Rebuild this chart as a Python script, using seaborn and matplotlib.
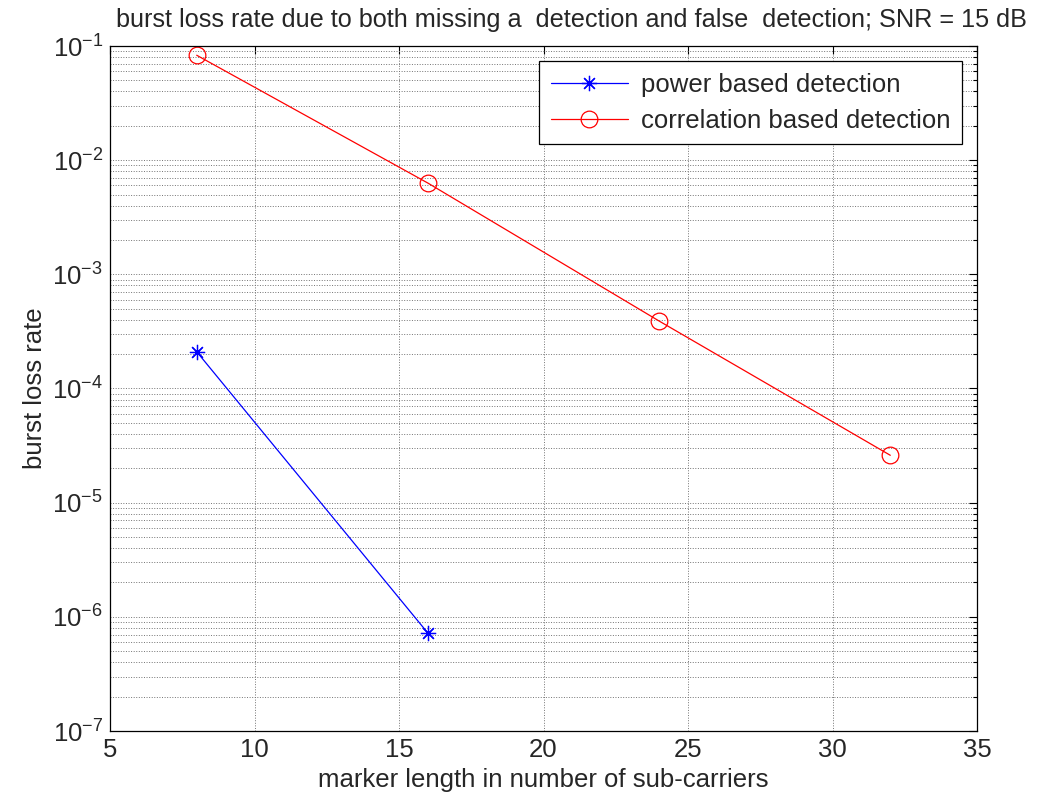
import pandas as pd
import seaborn as sns
import matplotlib.pyplot as plt
from matplotlib.ticker import LogLocator, MultipleLocator, NullFormatter, LogFormatterMathtext

# datos
x_power = [8, 16]
y_power = [2.1e-4, 7.2e-7]
x_corr = [8, 16, 24, 32]
y_corr = [8.3e-2, 6.3e-3, 3.9e-4, 2.6e-5]
series_names = ["power based detection", "correlation based detection"]

df_power = pd.DataFrame({"x": x_power, "y": y_power})
df_corr = pd.DataFrame({"x": x_corr, "y": y_corr})

sns.set_style("white")
plt.rcParams["font.family"] = ["Liberation Sans", "DejaVu Sans"]
plt.rcParams["mathtext.default"] = "regular"
fs = 18.5

fig = plt.figure(figsize=(10.38, 8.05), dpi=100)
ax = fig.add_axes([110/1038, 1-731/805, 867/1038, 685/805])

# una llamada por serie (marcadores de linea y rellenos no se pueden mezclar)
sns.lineplot(data=df_power, x="x", y="y", color="#0000ff", marker=(8, 2, 0),
             markersize=11, markeredgewidth=0.9, markeredgecolor="#0000ff",
             linewidth=0.9, ax=ax, label=series_names[0])
sns.lineplot(data=df_corr, x="x", y="y", color="#ff0000", marker="o",
             markersize=12, markeredgewidth=0.9, markeredgecolor="#ff0000",
             markerfacecolor="none", linewidth=0.9, ax=ax, label=series_names[1])

ax.set_yscale("log")
ax.set_xlim(5, 35)
ax.set_ylim(1e-7, 1e-1)
ax.xaxis.set_major_locator(MultipleLocator(5))
ax.yaxis.set_major_locator(LogLocator(base=10, numticks=20))
ax.yaxis.set_minor_locator(LogLocator(base=10, subs=range(2, 10), numticks=20))
ax.yaxis.set_major_formatter(LogFormatterMathtext())
ax.yaxis.set_minor_formatter(NullFormatter())

ax.grid(True, which="major", color="0.45", linestyle=":", linewidth=0.7)
ax.grid(True, which="minor", axis="y", color="0.45", linestyle=":", linewidth=0.7)
ax.tick_params(which="both", direction="in", top=True, right=True, labelsize=fs, color="k")
ax.tick_params(which="major", length=6, width=0.8, pad=5)
ax.tick_params(which="minor", length=3, width=0.8)
for s in ax.spines.values():
    s.set_color("k")
    s.set_linewidth(0.9)

ax.set_xlabel("marker length in number of sub-carriers", fontsize=fs, labelpad=4)
ax.set_ylabel("burst loss rate", fontsize=fs, labelpad=4)
fig.text(571/1038, 1-20/805,
         "burst loss rate due to both missing a  detection and false  detection; SNR = 15 dB",
         ha="center", va="center", fontsize=18.2)

leg = ax.legend(loc="upper right", fontsize=fs,
                frameon=True, fancybox=False, framealpha=1, edgecolor="k",
                borderaxespad=0.6, handlelength=3.0, handletextpad=0.5,
                borderpad=0.45, labelspacing=0.45)
leg.get_frame().set_linewidth(0.9)

fig.savefig("out.png", dpi=100)
